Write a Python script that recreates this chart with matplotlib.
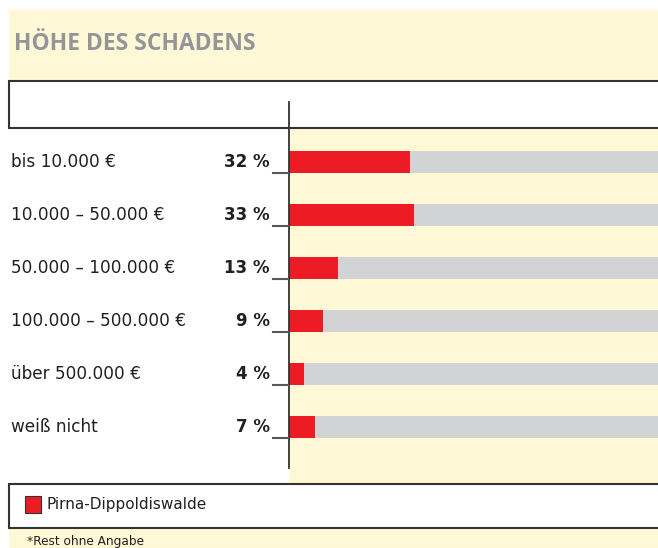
import matplotlib
matplotlib.use("Agg")
import matplotlib.pyplot as plt
from matplotlib.patches import Rectangle
from matplotlib.lines import Line2D

categories = ["bis 10.000 €", "10.000 – 50.000 €", "50.000 – 100.000 €",
              "100.000 – 500.000 €", "über 500.000 €", "weiß nicht"]
values = [32, 33, 13, 9, 4, 7]
pct_labels = ["32 %", "33 %", "13 %", "9 %", "4 %", "7 %"]
series_name = "Pirna-Dippoldiswalde"
title = "HÖHE DES SCHADENS"
footnote = "*Rest ohne Angabe"

W, H = 658, 548
YELLOW = "#fff8d6"
RED = "#ed1c24"
GRAY = "#d1d3d4"
DARK = "#333333"
FONT = ["DejaVu Sans"]

fig = plt.figure(figsize=(W / 100, H / 100), dpi=100)
fig.patch.set_facecolor("white")

def fx(px):
    return px / W

def fy(py):
    return 1 - py / H

def rect(x0, y0, x1, y1, **kw):
    fig.patches.append(Rectangle((fx(x0), fy(y1)), fx(x1) - fx(x0), fy(y0) - fy(y1),
                                 transform=fig.transFigure, figure=fig, **kw))

# background panels
rect(9, 10, W, 81, facecolor=YELLOW, edgecolor="none")
rect(9, 528, W, H, facecolor=YELLOW, edgecolor="none")
rect(9, 81, W + 5, 128, facecolor="white", edgecolor=DARK, linewidth=1.5)
rect(9, 484, W + 5, 528, facecolor="white", edgecolor=DARK, linewidth=1.5)

fig.text(fx(14), fy(44), title, fontsize=16.5, fontweight="bold", color="#939598",
         family=["Open Sans", "DejaVu Sans"], va="center", ha="left")

# bar axes
top_px, bot_px = 129, 483
ax = fig.add_axes([fx(289), fy(bot_px), fx(W) - fx(289), fy(top_px) - fy(bot_px)])
ax.set_facecolor(YELLOW)
row_h = 53.0
first_c = 162.0
ax.set_ylim((bot_px - first_c) / row_h, -(first_c - top_px) / row_h)
ax.set_xlim(0, 369 / 3.78)
ypos = list(range(len(values)))
bh = 22 / row_h
ax.barh(ypos, [100 - v for v in values], left=values, height=bh, color=GRAY)
ax.barh(ypos, values, height=bh, color=RED)
for s in ax.spines.values():
    s.set_visible(False)
ax.set_xticks([])
ax.set_yticks([])

# axis line
fig.add_artist(Line2D([fx(288.5), fx(288.5)], [fy(102), fy(468)], color=DARK, linewidth=1.3))

for i, (c, p) in enumerate(zip(categories, pct_labels)):
    yc = first_c + row_h * i
    fig.text(fx(11), fy(yc), c, fontsize=12.2, color="#231f20", family=FONT, va="center", ha="left")
    fig.text(fx(270), fy(yc), p, fontsize=12, fontweight="bold", color="#231f20",
             family=FONT, va="center", ha="right")
    yb = yc + 11
    fig.add_artist(Line2D([fx(273), fx(288)], [fy(yb), fy(yb)], color="#58595b", linewidth=1.5))

# legend
rect(25, 496, 41, 513, facecolor=RED, edgecolor=DARK, linewidth=0.8)
fig.text(fx(47), fy(505), series_name, fontsize=11, color="#231f20", family=FONT,
         va="center", ha="left")
fig.text(fx(27), fy(541), footnote, fontsize=8.7, color="#231f20", family=FONT,
         va="center", ha="left")

fig.savefig("out.png", dpi=100, facecolor="white")
